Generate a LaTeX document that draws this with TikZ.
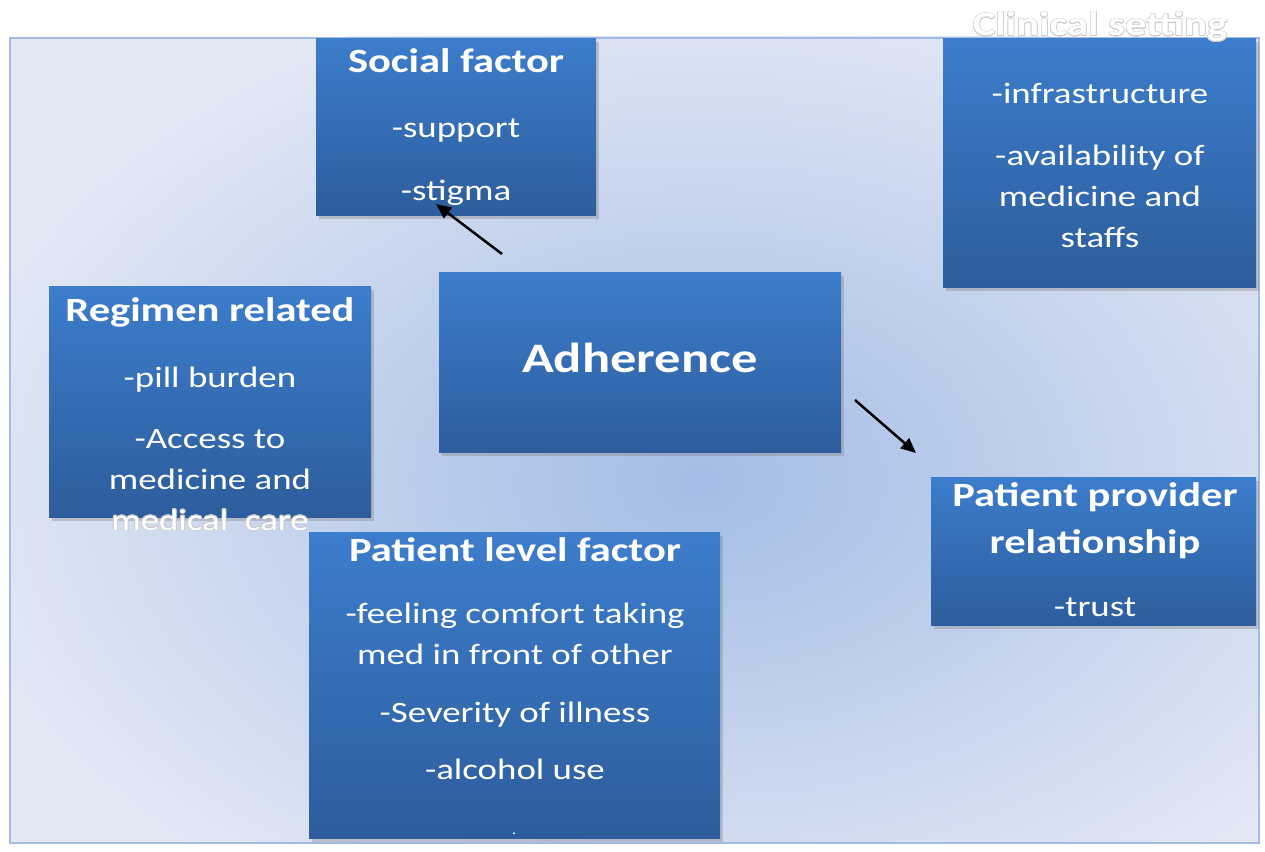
\documentclass[tikz,border=0pt]{standalone}
\usepackage{fontspec}
\setmainfont[FakeStretch=1.25]{Carlito}
\usepackage{contour}
\usetikzlibrary{arrows.meta,shadows}

\definecolor{boxtop}{HTML}{3C7DCC}
\definecolor{boxbot}{HTML}{2D5D9C}
\definecolor{bgin}{HTML}{A4BCE6}
\definecolor{bgout}{HTML}{E2E8F4}
\definecolor{bgline}{HTML}{A3BBE6}

\contourlength{0.6pt}
\newcommand{\hd}[1]{{\fontsize{34}{41}\selectfont\bfseries #1}}

\begin{document}
\begin{tikzpicture}[x=1pt,y=-1pt,
    bg/.style={draw=bgline, line width=2pt, anchor=north west, inner sep=0pt},
    box/.style={top color=boxtop, bottom color=boxbot, anchor=north west, inner sep=0pt,
      drop shadow={shadow xshift=3pt, shadow yshift=-4pt, opacity=0.35}},
    txt/.style={text=white, align=center, inner sep=0pt, font=\fontsize{29.5}{41}\selectfont},
    arr/.style={-{Triangle[length=15pt,width=13pt]}, line width=2.5pt}]

  \useasboundingbox (0,0) rectangle (1265,851);
  % background
  \begin{scope}
    \clip (9,37) rectangle (1258,842);
    \fill[bgout] (9,37) rectangle (1258,842);
    \shade[inner color=bgin, outer color=bgout] (700,480) ellipse (760 and 500);
  \end{scope}
  \node[bg, minimum width=1249pt, minimum height=805pt] (back) at (9,37) {};

  % boxes
  \node[box, minimum width=280pt, minimum height=177pt] (sf) at (316,38) {};
  \node[box, minimum width=313pt, minimum height=249pt] (cs) at (943,38) {};
  \node[box, minimum width=322pt, minimum height=231pt] (rr) at (49,286) {};
  \node[box, minimum width=402pt, minimum height=180pt] (ad) at (439,272) {};
  \node[box, minimum width=411pt, minimum height=306pt] (pl) at (309,532) {};
  \node[box, minimum width=325pt, minimum height=148pt] (pp) at (931,477) {};

  % texts
  \node[txt] (sf-t) at (456,127) {\hd{Social factor}\\[24pt]-support\\[22pt]-stigma};
  \node[txt] (cs-h) at (1100,27) {\hd{\contour{gray!40}{Clinical setting}}};
  \node[txt] (cs-t) at (1100,165) {-infrastructure\\[21pt]-availability of\\medicine and\\staffs};
  \node[txt] (rr-t) at (210,414) {\hd{Regimen related}\\[25pt]-pill burden\\[20pt]-Access to\\medicine and\\\contour{gray!40}{medical\ \ care}};
  \node[txt, font=\fontsize{42}{50}\selectfont\bfseries] (ad-t) at (640,358) {Adherence};
  \node[txt] (pl-t) at (515,659) {\hd{Patient level factor}\\[21pt]-feeling comfort taking\\med in front of other\\[17pt]-Severity of illness\\[16pt]-alcohol use};
  \node[txt, font=\fontsize{14}{16}\selectfont] (pl-d) at (514,834) {.};
  \node[txt] (pp-t) at (1095,550) {\hd{Patient provider}\\[6pt]\hd{relationship}\\[22pt]-trust};

  % arrows
  \coordinate (a1) at (502,254);
  \coordinate (b1) at (436,204);
  \coordinate (a2) at (855,400);
  \coordinate (b2) at (916,453);
  \draw[arr] (a1) -- (b1);
  \draw[arr] (a2) -- (b2);
\end{tikzpicture}
\end{document}
